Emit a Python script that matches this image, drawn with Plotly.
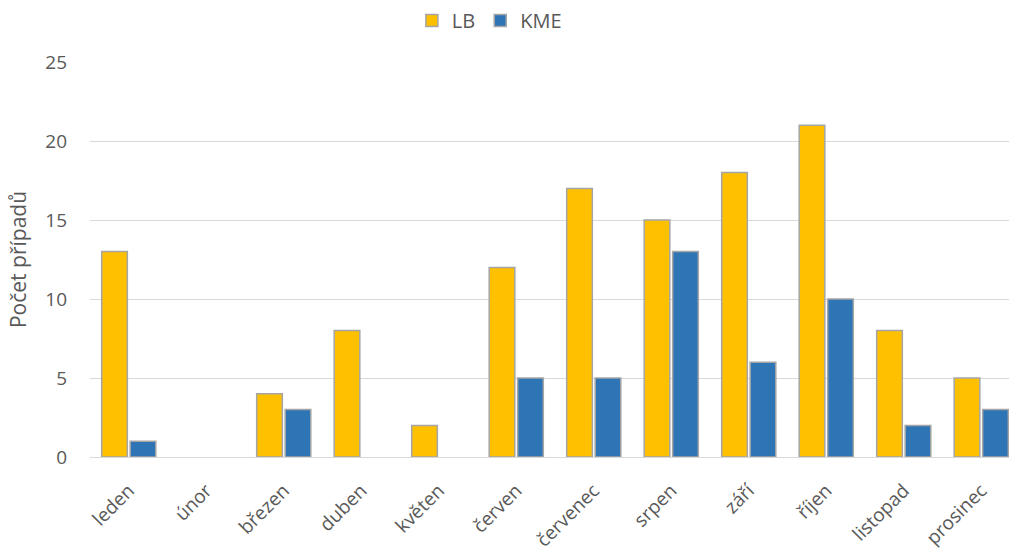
import plotly.graph_objects as go

# Monthly case counts
months = ["leden", "únor", "březen", "duben", "květen", "červen",
          "červenec", "srpen", "září", "říjen", "listopad", "prosinec"]
lb_values = [13, 0, 4, 8, 2, 12, 17, 15, 18, 21, 8, 5]
kme_values = [1, 0, 3, 0, 0, 5, 5, 13, 6, 10, 2, 3]
y_ticks = [0, 5, 10, 15, 20, 25]

text_color = "#595959"
outline_color = "#A5A5A5"
font_family = "Open Sans, Noto Sans, sans-serif"


def outline(values):
    # no outline for empty bars, so nothing is drawn at zero
    return dict(color=outline_color, width=[0 if v == 0 else 1.5 for v in values])


fig = go.Figure()
fig.add_trace(go.Bar(name="LB", x=months, y=lb_values,
                     marker=dict(color="#FFC000", line=outline(lb_values))))
fig.add_trace(go.Bar(name="KME", x=months, y=kme_values,
                     marker=dict(color="#2E75B6", line=outline(kme_values))))

fig.update_layout(
    width=1009, height=551,
    margin=dict(l=90, r=0, t=62, b=94),
    paper_bgcolor="white", plot_bgcolor="white",
    font=dict(family=font_family, color=text_color),
    barmode="group", bargap=0.265, bargroupgap=0.1,
    legend=dict(orientation="h", xref="container", x=0.485, xanchor="center",
                yref="container", y=0.998, yanchor="top",
                font=dict(size=20, color=text_color),
                itemwidth=30, traceorder="normal"),
    showlegend=True,
)

fig.update_xaxes(
    range=[-0.5, -0.5 + 919 / 77.5],
    tickangle=-45, tickfont=dict(size=19, color=text_color),
    ticklabelstandoff=14,
    showgrid=False, ticks="", showline=True, linecolor="#D9D9D9", linewidth=1,
)
fig.update_yaxes(
    range=[0, 25], tickvals=y_ticks,
    tickfont=dict(size=19, color=text_color),
    gridcolor="#D9D9D9", gridwidth=1, zeroline=False,
    ticklabelstandoff=22,
    title=dict(text="Počet případů", font=dict(size=21, color=text_color), standoff=12),
)

fig.write_html("out.html")
